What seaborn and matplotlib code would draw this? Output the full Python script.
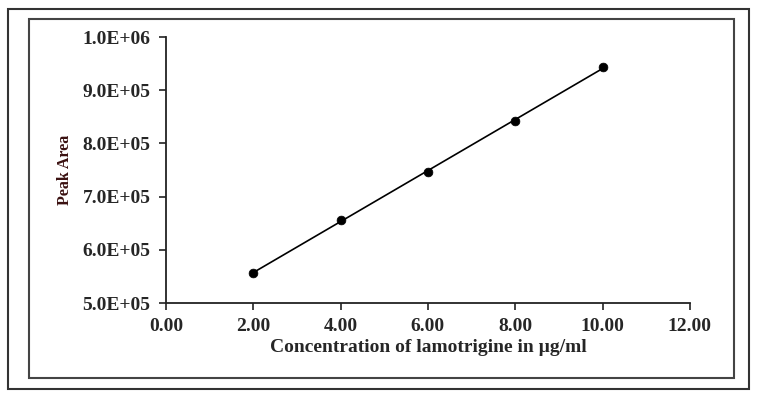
import numpy as np
import pandas as pd
import matplotlib
matplotlib.use("Agg")
import matplotlib.pyplot as plt
import seaborn as sns
from matplotlib.patches import Rectangle
from matplotlib.ticker import FuncFormatter

# calibration data
conc = [2.0, 4.0, 6.0, 8.0, 10.0]
peak_area = [557000, 656000, 746000, 843000, 943000]
x_ticks = [0, 2, 4, 6, 8, 10, 12]
y_ticks = [5e5, 6e5, 7e5, 8e5, 9e5, 1e6]

df = pd.DataFrame({'conc': conc, 'area': peak_area})

sns.set_style("white")
plt.rcParams['font.family'] = ['Liberation Serif', 'DejaVu Serif']
plt.rcParams['font.weight'] = 'bold'

fig = plt.figure(figsize=(7.61, 3.96), dpi=100)
ax = fig.add_axes([0.218, 0.2348, 0.6886, 0.6717])

# trend line (least squares) from first to last point
slope, icpt = np.polyfit(df['conc'], df['area'], 1)
xs = np.array([df['conc'].min(), df['conc'].max()])
sns.lineplot(x=xs, y=slope * xs + icpt, ax=ax, color='black', lw=1.2)
sns.scatterplot(data=df, x='conc', y='area', ax=ax, color='black', s=40,
                edgecolor='black', zorder=3)

ax.set_xlim(0, 12)
ax.set_ylim(5e5, 1e6)
ax.set_xticks(x_ticks)
ax.set_yticks(y_ticks)
ax.xaxis.set_major_formatter(FuncFormatter(lambda v, p: f"{v:.2f}"))

def sci(v, p):
    e = int(np.floor(np.log10(v)))
    return f"{v / 10**e:.1f}E+{e:02d}"
ax.yaxis.set_major_formatter(FuncFormatter(sci))

for s in ['top', 'right']:
    ax.spines[s].set_visible(False)
for s in ['left', 'bottom']:
    ax.spines[s].set_color('#222222')
    ax.spines[s].set_linewidth(1.3)
ax.tick_params(axis='both', direction='out', length=5, width=1.2, color='#222222',
               labelsize=14, pad=6, left=True, bottom=True)
for lab in ax.get_xticklabels() + ax.get_yticklabels():
    lab.set_fontweight('bold')

ax.set_xlabel('Concentration of lamotrigine in µg/ml', fontsize=14,
              fontweight='bold', labelpad=3)
ax.set_ylabel('Peak Area', fontsize=11.5, fontweight='bold', color='#3a1010',
              labelpad=7)

# double frame around the figure
fig.patches.append(Rectangle((8 / 761, 1 - 389 / 396), (749 - 8) / 761, (389 - 9) / 396,
                             transform=fig.transFigure, fill=False,
                             edgecolor='#333333', lw=1.5))
fig.patches.append(Rectangle((29 / 761, 1 - 378 / 396), (734 - 29) / 761, (378 - 19) / 396,
                             transform=fig.transFigure, fill=False,
                             edgecolor='#444444', lw=1.5))

fig.savefig('out.png', dpi=100)
